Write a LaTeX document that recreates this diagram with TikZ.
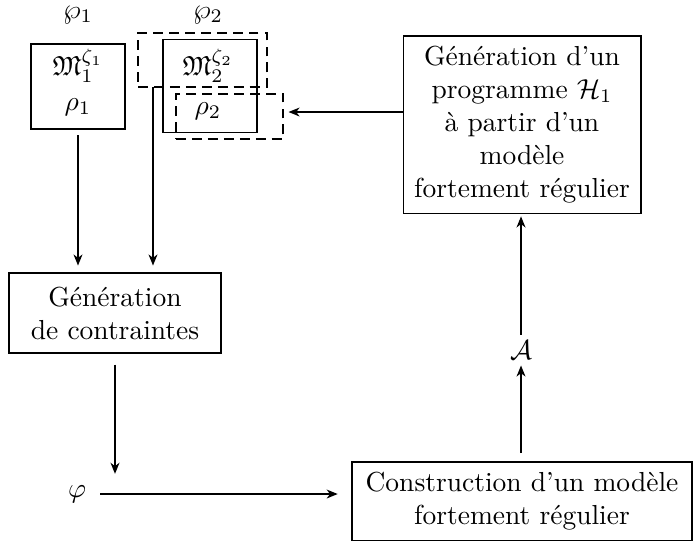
\documentclass[tikz,border=0pt]{standalone}
\usepackage{amssymb}
\usetikzlibrary{calc,arrows.meta}
\begin{document}
\begin{tikzpicture}[x=0.3636pt,y=-0.3636pt,
  box/.style={draw, line width=0.4pt, inner sep=0pt, align=center},
  dbox/.style={draw, line width=1pt, dash pattern=on 3.6pt off 2.2pt, inner sep=0pt},
  arr/.style={-{Stealth[length=4pt,width=3.2pt,inset=1.2pt]}, line width=0.75pt, shorten >=2.5pt, shorten <=2pt},
  lbl/.style={inner sep=1pt}]
\useasboundingbox (0,0) rectangle (696,547);
% labels
\node[lbl] (wp1) at (78,15) {$\wp_1$};
\node[lbl] (wp2) at (208,15) {$\wp_2$};
% box 1
\node[box, minimum width=34.2pt, minimum height=30.9pt] (b1) at (78,86.5) {};
\node[lbl] (m1) at (78,66) {$\mathfrak{M}_1^{\zeta_1}$};
\node[lbl] (r1) at (78,107) {$\rho_1$};
% box 2
\node[box, minimum width=34.2pt, minimum height=33.5pt] (b2) at (210,86) {};
\node[lbl] (m2) at (208,66) {$\mathfrak{M}_2^{\zeta_2}$};
\node[lbl] (r2) at (208,111) {$\rho_2$};
\node[dbox, minimum width=46.9pt, minimum height=19.6pt] (dbig) at (202.5,60) {};
\node[dbox, minimum width=38.9pt, minimum height=16.4pt] (dsm) at (229.5,116.5) {};
% generation de contraintes
\node[box, minimum width=77.1pt, minimum height=29.1pt] (gc) at (115,313) {Génération\\de contraintes};
% H1 box
\node[box, minimum width=86.5pt, minimum height=64.4pt] (h1) at (522,124.5)
  {Génération d'un\\programme $\mathcal{H}_1$\\à partir d'un\\modèle\\fortement régulier};
% construction
\node[box, minimum width=123.6pt, minimum height=28.4pt] (cm) at (522,501)
  {Construction d'un modèle\\fortement régulier};
\node[lbl] (phi) at (77,494) {$\varphi$};
\node[lbl] (A) at (521,350) {$\mathcal{A}$};
% connectors
\coordinate (c2) at (153,87);
\draw[arr, shorten <=0pt] (c2) -- (c2 |- gc.north);
\draw[arr] (b1.south) -- (b1.south |- gc.north);
\draw[arr, shorten <=4pt, shorten >=3pt] (gc.south) -- (gc.south |- phi.north);
\draw[arr, shorten <=4pt, shorten >=5pt] (phi.east) -- (phi.east -| cm.west);
\draw[arr, shorten <=3pt, shorten >=1pt] (cm.north -| A) -- (A.south);
\draw[arr, shorten <=1pt, shorten >=1pt] (A.north) -- (A |- h1.south);
\draw[arr, shorten <=0pt, shorten >=1.5pt] (h1.west |- 0,112) -- (dsm.east |- 0,112);
\end{tikzpicture}
\end{document}
